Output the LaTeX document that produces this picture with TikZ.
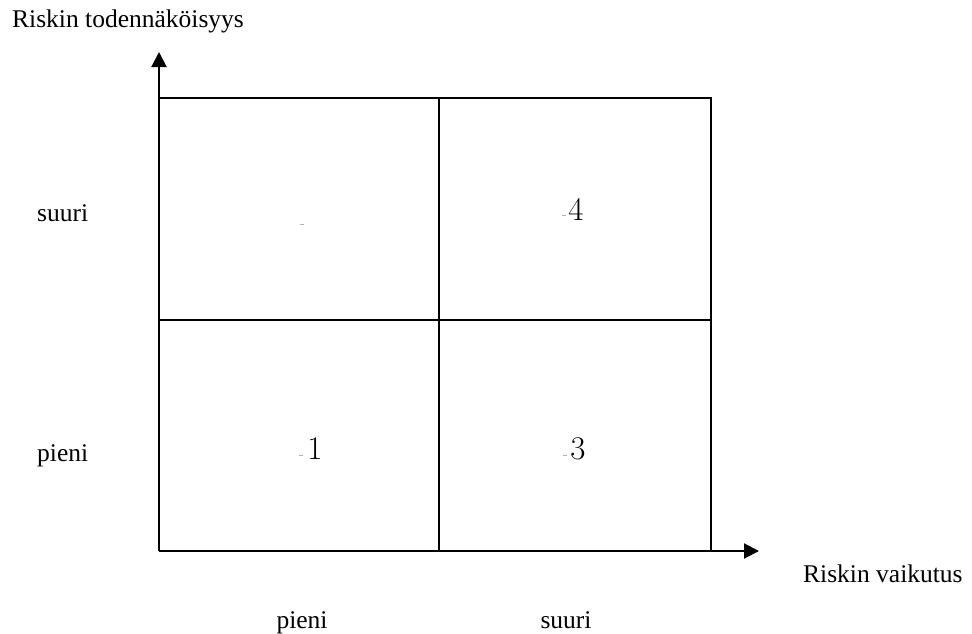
\documentclass[tikz,border=0pt]{standalone}
\usepackage{fontspec}
\usetikzlibrary{arrows.meta}
\newfontfamily\tnr{Liberation Serif}
\begin{document}
\begin{tikzpicture}[x=1pt,y=-1pt,
  grid/.style={line width=2pt,black},
  axis/.style={line width=2pt,black,-{Triangle[length=15pt,width=15pt]}},
  lbl/.style={font=\tnr\fontsize{25.5}{30}\selectfont,inner sep=0pt},
  num/.style={font=\fontsize{33}{38}\selectfont,inner sep=0pt},
  speck/.style={line width=0.8pt,gray!60}]
\useasboundingbox (0,0) rectangle (972,633);
% grid corners and axis ends
\coordinate (O) at (159,551);
\coordinate (TL) at (159,98);
\coordinate (TR) at (711,98);
\coordinate (BR) at (711,551);
\coordinate (MT) at (439,98);
\coordinate (MB) at (439,551);
\coordinate (ML) at (159,320);
\coordinate (MR) at (711,320);
\coordinate (yend) at (159,52);
\coordinate (xend) at (759,551);
% cells
\draw[grid] (TL) -- (TR) -- (BR);
\draw[grid] (MT) -- (MB);
\draw[grid] (ML) -- (MR);
% axes
\draw[axis] (O) -- (yend);
\draw[axis] (O) -- (xend);
% axis titles
\node[lbl,anchor=base west] (ytitle) at (12,27) {Riskin todennäköisyys};
\node[lbl,anchor=base west] (xtitle) at (803,582) {Riskin vaikutus};
% category labels
\node[lbl,anchor=base west] (yhigh) at (37,221) {suuri};
\node[lbl,anchor=base west] (ylow) at (37,461) {pieni};
\node[lbl,anchor=base] (xlow) at (302,628) {pieni};
\node[lbl,anchor=base] (xhigh) at (566,628) {suuri};
% cell numbers
\node[num,anchor=base] (c1) at (315,459) {1};
\node[num,anchor=base] (c3) at (578,459) {3};
\node[num,anchor=base] (c4) at (576,220) {4};
% small marks in the cells
\draw[speck] (299,455) -- (303,455);
\draw[speck] (563,455) -- (567,455);
\draw[speck] (562,215) -- (566,215);
\draw[speck] (300,224) -- (304,224);
\end{tikzpicture}
\end{document}
